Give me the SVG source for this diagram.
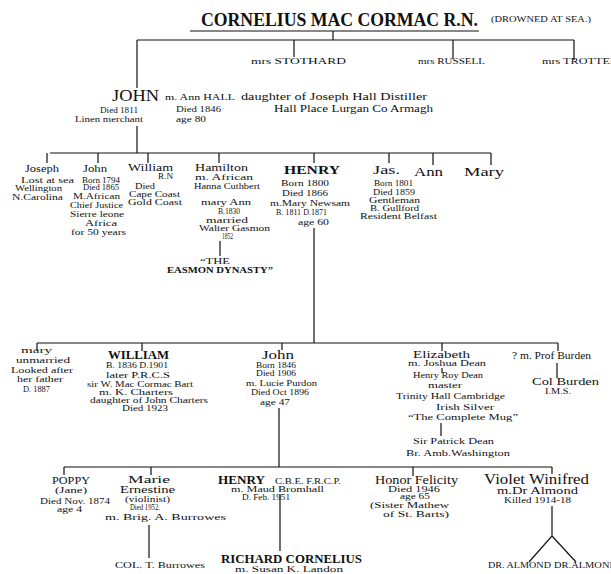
<svg xmlns="http://www.w3.org/2000/svg" width="611" height="574" viewBox="0 0 611 574">
<style>
text{font-family:"Liberation Serif","Times New Roman",serif;fill:#111;}
.t{font-size:8.5px;}
.s{font-size:7.5px;}
.m{font-size:10px;}
.n{font-size:12px;}
.b{font-size:13.5px;font-weight:bold;}
.ttl{font-size:19px;font-weight:bold;}
.ln{stroke:#111;stroke-width:1.2;fill:none;}
</style>
<rect width="611" height="574" fill="#fff"/>
<g id="connectors" class="ln">
<path d="M190 31H479M333 31V40M137 40H574M294 40V57M453 40V59M574 40V60M137 40V88"/>
<path d="M137 126V153M50 153H491M47 153V163M98 153V163M148 153V163M219 153V163M314 153V163M389 153V163M433 153V165M491 153V165"/>
<path d="M220 241V256"/>
<path d="M314 228V343M37 343H558M37 343V350M142 343V351M282 343V350M442 343V351M558 343V351"/>
<path d="M442 368V373M557 363V378M441 423V436"/>
<path d="M279 408V467M64 467H552M64 467V475M151 467V475M413 467V476M552 467V474"/>
<path d="M149 525V558M280 494V551M552 506V536L529 562M552 536L576 562"/>
</g>
<g id="cornelius">
<text class="ttl" x="201" y="26" textLength="277" lengthAdjust="spacingAndGlyphs">CORNELIUS MAC CORMAC R.N.</text>
<text class="s" x="491" y="22" textLength="100" lengthAdjust="spacingAndGlyphs">(DROWNED AT SEA.)</text>
</g>
<g id="stothard"><text class="t" x="251" y="64" textLength="95" lengthAdjust="spacingAndGlyphs">mrs STOTHARD</text></g>
<g id="russell"><text class="t" x="418" y="64" textLength="67" lengthAdjust="spacingAndGlyphs">mrs RUSSELL</text></g>
<g id="trotter"><text class="t" x="542" y="64" textLength="76" lengthAdjust="spacingAndGlyphs">mrs TROTTER</text></g>
<g id="john1">
<text x="112" y="101" style="font-size:16px" textLength="47" lengthAdjust="spacingAndGlyphs">JOHN</text>
<text class="t" x="100" y="113" textLength="38" lengthAdjust="spacingAndGlyphs">Died 1811</text>
<text class="s" x="75" y="122" textLength="68" lengthAdjust="spacingAndGlyphs">Linen merchant</text>
<text class="t" x="165" y="100" textLength="70" lengthAdjust="spacingAndGlyphs">m. Ann HALL</text>
<text class="m" x="241" y="100" textLength="186" lengthAdjust="spacingAndGlyphs">daughter of Joseph Hall Distiller</text>
<text class="t" x="176" y="112" textLength="45" lengthAdjust="spacingAndGlyphs">Died 1846</text>
<text class="t" x="176" y="122" textLength="30" lengthAdjust="spacingAndGlyphs">age 80</text>
<text class="m" x="274" y="112" textLength="159" lengthAdjust="spacingAndGlyphs">Hall Place Lurgan Co Armagh</text>
</g>
<g id="joseph">
<text class="m" x="25" y="172" textLength="34" lengthAdjust="spacingAndGlyphs">Joseph</text>
<text class="t" x="21" y="183" textLength="53" lengthAdjust="spacingAndGlyphs">Lost at sea</text>
<text class="t" x="15" y="191" textLength="47" lengthAdjust="spacingAndGlyphs">Wellington</text>
<text class="t" x="12" y="200" textLength="51" lengthAdjust="spacingAndGlyphs">N.Carolina</text>
</g>
<g id="john2">
<text class="m" x="83" y="172" textLength="24" lengthAdjust="spacingAndGlyphs">John</text>
<text class="s" x="82" y="183" textLength="38" lengthAdjust="spacingAndGlyphs">Born 1794</text>
<text class="s" x="83" y="190" textLength="36" lengthAdjust="spacingAndGlyphs">Died 1865</text>
<text class="t" x="73" y="199" textLength="47" lengthAdjust="spacingAndGlyphs">M.African</text>
<text class="t" x="70" y="208" textLength="53" lengthAdjust="spacingAndGlyphs">Chief Justice</text>
<text class="t" x="70" y="217" textLength="54" lengthAdjust="spacingAndGlyphs">Sierre leone</text>
<text class="t" x="85" y="226" textLength="32" lengthAdjust="spacingAndGlyphs">Africa</text>
<text class="t" x="71" y="235" textLength="55" lengthAdjust="spacingAndGlyphs">for 50 years</text>
</g>
<g id="william1">
<text class="m" x="128" y="171" textLength="45" lengthAdjust="spacingAndGlyphs">William</text>
<text class="s" x="158" y="179" textLength="15" lengthAdjust="spacingAndGlyphs">R.N</text>
<text class="t" x="135" y="189" textLength="20" lengthAdjust="spacingAndGlyphs">Died</text>
<text class="t" x="129" y="197" textLength="51" lengthAdjust="spacingAndGlyphs">Cape Coast</text>
<text class="t" x="128" y="205" textLength="54" lengthAdjust="spacingAndGlyphs">Gold Coast</text>
</g>
<g id="hamilton">
<text class="m" x="195" y="171" textLength="53" lengthAdjust="spacingAndGlyphs">Hamilton</text>
<text class="t" x="195" y="180" textLength="58" lengthAdjust="spacingAndGlyphs">m. African</text>
<text class="t" x="194" y="189" textLength="66" lengthAdjust="spacingAndGlyphs">Hanna Cuthbert</text>
<text class="t" x="201" y="205" textLength="50" lengthAdjust="spacingAndGlyphs">mary Ann</text>
<text class="s" x="218" y="214" textLength="22" lengthAdjust="spacingAndGlyphs">B.1830</text>
<text class="t" x="206" y="223" textLength="42" lengthAdjust="spacingAndGlyphs">married</text>
<text class="t" x="199" y="231" textLength="71" lengthAdjust="spacingAndGlyphs">Walter Gasmon</text>
<text class="s" x="222" y="239" textLength="11" lengthAdjust="spacingAndGlyphs">1852</text>
<text class="t" x="200" y="264" textLength="30" lengthAdjust="spacingAndGlyphs">“THE</text>
<text class="t" x="167" y="273" textLength="106" lengthAdjust="spacingAndGlyphs" font-weight="bold">EASMON DYNASTY”</text>
</g>
<g id="henry1">
<text class="b" x="284" y="174" textLength="56" lengthAdjust="spacingAndGlyphs">HENRY</text>
<text class="t" x="281" y="186" textLength="48" lengthAdjust="spacingAndGlyphs">Born 1800</text>
<text class="t" x="282" y="196" textLength="46" lengthAdjust="spacingAndGlyphs">Died 1866</text>
<text class="t" x="270" y="206" textLength="80" lengthAdjust="spacingAndGlyphs">m.Mary Newsam</text>
<text class="s" x="276" y="215" textLength="51" lengthAdjust="spacingAndGlyphs">B. 1811 D.1871</text>
<text class="t" x="298" y="225" textLength="31" lengthAdjust="spacingAndGlyphs">age 60</text>
</g>
<g id="jas">
<text class="n" x="373" y="174" textLength="27" lengthAdjust="spacingAndGlyphs">Jas.</text>
<text class="s" x="374" y="186" textLength="39" lengthAdjust="spacingAndGlyphs">Born 1801</text>
<text class="t" x="373" y="195" textLength="42" lengthAdjust="spacingAndGlyphs">Died 1859</text>
<text class="t" x="369" y="203" textLength="51" lengthAdjust="spacingAndGlyphs">Gentleman</text>
<text class="t" x="370" y="211" textLength="49" lengthAdjust="spacingAndGlyphs">B. Gullford</text>
<text class="t" x="360" y="219" textLength="77" lengthAdjust="spacingAndGlyphs">Resident Belfast</text>
</g>
<g id="ann"><text class="n" x="414" y="176" textLength="29" lengthAdjust="spacingAndGlyphs">Ann</text></g>
<g id="mary1"><text class="n" x="464" y="176" textLength="40" lengthAdjust="spacingAndGlyphs">Mary</text></g>
<g id="mary2">
<text class="t" x="21" y="353" textLength="31" lengthAdjust="spacingAndGlyphs">mary</text>
<text class="t" x="16" y="363" textLength="54" lengthAdjust="spacingAndGlyphs">unmarried</text>
<text class="t" x="11" y="373" textLength="62" lengthAdjust="spacingAndGlyphs">Looked after</text>
<text class="t" x="17" y="382" textLength="46" lengthAdjust="spacingAndGlyphs">her father</text>
<text class="s" x="23" y="392" textLength="27" lengthAdjust="spacingAndGlyphs">D. 1887</text>
</g>
<g id="william2">
<text class="b" x="108" y="359" textLength="61" lengthAdjust="spacingAndGlyphs">WILLIAM</text>
<text class="t" x="106" y="368" textLength="62" lengthAdjust="spacingAndGlyphs">B. 1836 D.1901</text>
<text class="t" x="106" y="378" textLength="64" lengthAdjust="spacingAndGlyphs">later P.R.C.S</text>
<text class="t" x="87" y="387" textLength="106" lengthAdjust="spacingAndGlyphs">sir W. Mac Cormac Bart</text>
<text class="t" x="99" y="395" textLength="74" lengthAdjust="spacingAndGlyphs">m. K. Charters</text>
<text class="t" x="90" y="403" textLength="118" lengthAdjust="spacingAndGlyphs">daughter of John Charters</text>
<text class="s" x="122" y="411" textLength="46" lengthAdjust="spacingAndGlyphs">Died 1923</text>
</g>
<g id="john3">
<text class="n" x="262" y="359" textLength="32" lengthAdjust="spacingAndGlyphs">John</text>
<text class="s" x="256" y="368" textLength="40" lengthAdjust="spacingAndGlyphs">Born 1846</text>
<text class="s" x="256" y="376" textLength="40" lengthAdjust="spacingAndGlyphs">Died 1906</text>
<text class="t" x="246" y="386" textLength="71" lengthAdjust="spacingAndGlyphs">m. Lucie Purdon</text>
<text class="t" x="251" y="395" textLength="58" lengthAdjust="spacingAndGlyphs">Died Oct 1896</text>
<text class="t" x="260" y="405" textLength="30" lengthAdjust="spacingAndGlyphs">age 47</text>
</g>
<g id="elizabeth">
<text class="m" x="413" y="358" textLength="57" lengthAdjust="spacingAndGlyphs">Elizabeth</text>
<text class="s" x="408" y="366" textLength="78" lengthAdjust="spacingAndGlyphs">m. Joshua Dean</text>
<text class="t" x="413" y="378" textLength="70" lengthAdjust="spacingAndGlyphs">Henry Roy Dean</text>
<text class="t" x="428" y="388" textLength="34" lengthAdjust="spacingAndGlyphs">master</text>
<text class="t" x="396" y="399" textLength="109" lengthAdjust="spacingAndGlyphs">Trinity Hall Cambridge</text>
<text class="t" x="436" y="410" textLength="58" lengthAdjust="spacingAndGlyphs">Irish Silver</text>
<text class="t" x="408" y="420" textLength="110" lengthAdjust="spacingAndGlyphs">“The Complete Mug”</text>
<text class="t" x="413" y="444" textLength="81" lengthAdjust="spacingAndGlyphs">Sir Patrick Dean</text>
<text class="t" x="406" y="456" textLength="104" lengthAdjust="spacingAndGlyphs">Br. Amb.Washington</text>
</g>
<g id="burden">
<text class="m" x="512" y="359" textLength="79" lengthAdjust="spacingAndGlyphs">? m. Prof Burden</text>
<text class="m" x="532" y="385" textLength="67" lengthAdjust="spacingAndGlyphs">Col Burden</text>
<text class="s" x="545" y="394" textLength="26" lengthAdjust="spacingAndGlyphs">I.M.S.</text>
</g>
<g id="poppy">
<text class="m" x="52" y="484" textLength="38" lengthAdjust="spacingAndGlyphs">POPPY</text>
<text class="t" x="55" y="493" textLength="32" lengthAdjust="spacingAndGlyphs">(Jane)</text>
<text class="t" x="40" y="504" textLength="70" lengthAdjust="spacingAndGlyphs">Died Nov. 1874</text>
<text class="t" x="57" y="512" textLength="25" lengthAdjust="spacingAndGlyphs">age 4</text>
</g>
<g id="marie">
<text class="m" x="128" y="483" textLength="42" lengthAdjust="spacingAndGlyphs">Marie</text>
<text class="m" x="120" y="493" textLength="55" lengthAdjust="spacingAndGlyphs">Ernestine</text>
<text class="t" x="125" y="502" textLength="45" lengthAdjust="spacingAndGlyphs">(violinist)</text>
<text class="s" x="130" y="510" textLength="30" lengthAdjust="spacingAndGlyphs">Died 1952.</text>
<text class="t" x="105" y="520" textLength="121" lengthAdjust="spacingAndGlyphs">m. Brig. A. Burrowes</text>
<text class="t" x="115" y="568" textLength="90" lengthAdjust="spacingAndGlyphs">COL. T. Burrowes</text>
</g>
<g id="henry2">
<text class="b" x="218" y="484" textLength="47" lengthAdjust="spacingAndGlyphs">HENRY</text>
<text class="t" x="275" y="484" textLength="66" lengthAdjust="spacingAndGlyphs">C.B.E. F.R.C.P.</text>
<text class="t" x="231" y="492" textLength="93" lengthAdjust="spacingAndGlyphs">m. Maud Bromhall</text>
<text class="s" x="242" y="500" textLength="48" lengthAdjust="spacingAndGlyphs">D. Feb. 1951</text>
</g>
<g id="richard">
<text class="b" x="221" y="563" style="font-size:12.5px" textLength="141" lengthAdjust="spacingAndGlyphs">RICHARD CORNELIUS</text>
<text class="s" x="235" y="572" textLength="108" lengthAdjust="spacingAndGlyphs">m. Susan K. Landon</text>
</g>
<g id="honor">
<text class="n" x="375" y="484" textLength="83" lengthAdjust="spacingAndGlyphs">Honor Felicity</text>
<text class="s" x="388" y="492" textLength="52" lengthAdjust="spacingAndGlyphs">Died 1946</text>
<text class="s" x="400" y="499" textLength="30" lengthAdjust="spacingAndGlyphs">age 65</text>
<text class="t" x="370" y="508" textLength="79" lengthAdjust="spacingAndGlyphs">(Sister Mathew</text>
<text class="t" x="383" y="517" textLength="66" lengthAdjust="spacingAndGlyphs">of St. Barts)</text>
</g>
<g id="violet">
<text x="484" y="484" style="font-size:14px" textLength="105" lengthAdjust="spacingAndGlyphs">Violet Winifred</text>
<text class="m" x="497" y="494" textLength="81" lengthAdjust="spacingAndGlyphs">m.Dr Almond</text>
<text class="t" x="504" y="503" textLength="67" lengthAdjust="spacingAndGlyphs">Killed 1914-18</text>
</g>
<g id="almond1"><text class="t" x="488" y="568" textLength="63" lengthAdjust="spacingAndGlyphs">DR. ALMOND</text></g>
<g id="almond2"><text class="t" x="554" y="568" textLength="63" lengthAdjust="spacingAndGlyphs">DR.ALMOND</text></g>
</svg>
